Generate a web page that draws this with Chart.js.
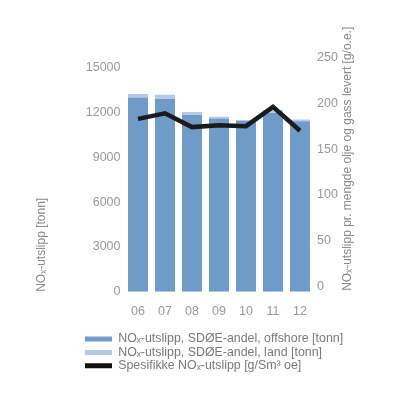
<!DOCTYPE html>
<html>
<head>
<meta charset="utf-8">
<script src="https://cdn.jsdelivr.net/npm/chart.js@4/dist/chart.umd.min.js"></script>
<style>
  html, body { margin: 0; padding: 0; background: #fff; }
  #wrap { width: 400px; height: 400px; position: relative; }
</style>
</head>
<body>
<div id="wrap"><canvas id="c" width="400" height="400"></canvas></div>
<script>
const categories = ['06', '07', '08', '09', '10', '11', '12'];
const offshore = [13020, 12930, 11850, 11620, 11450, 11980, 11430];
const land = [230, 270, 200, 110, 70, 200, 120];
const specific = [183, 189, 174, 176, 175, 196, 170];
const leftTicks = [0, 3000, 6000, 9000, 12000, 15000];
const rightTicks = [0, 50, 100, 150, 200, 250];

const labelOffshore = 'NOₓ-utslipp, SDØE-andel, offshore [tonn]';
const labelLand = 'NOₓ-utslipp, SDØE-andel, land [tonn]';
const labelSpecific = 'Spesifikke NOₓ-utslipp [g/Sm³ oe]';
const leftTitle = 'NOₓ-utslipp [tonn]';
const rightTitle = 'NOₓ-utslipp pr. mengde olje og gass levert [g/o.e.]';

const FONT = 'Liberation Sans';

const axisTitles = {
  id: 'axisTitles',
  afterDraw(chart) {
    const ctx = chart.ctx;
    const area = chart.chartArea;
    ctx.save();
    ctx.fillStyle = '#8a8a8a';
    ctx.font = '12px "' + FONT + '"';
    ctx.textAlign = 'left';
    ctx.textBaseline = 'middle';
    ctx.save();
    ctx.translate(42, area.bottom);
    ctx.rotate(-Math.PI / 2);
    ctx.fillText(leftTitle, 0, 0);
    ctx.restore();
    ctx.save();
    ctx.translate(347.5, area.bottom - 1);
    ctx.rotate(-Math.PI / 2);
    ctx.fillText(rightTitle, 0, 0);
    ctx.restore();
    ctx.restore();
  }
};

const plainTick = v => String(v);

new Chart(document.getElementById('c'), {
  data: {
    labels: categories,
    datasets: [
      {
        type: 'bar', label: labelOffshore, data: offshore,
        backgroundColor: '#6f9bc8', borderWidth: 0, yAxisID: 'y', order: 2,
        categoryPercentage: 1, barPercentage: 0.74
      },
      {
        type: 'bar', label: labelLand, data: land,
        backgroundColor: '#b5cae4', borderWidth: 0, yAxisID: 'y', order: 2,
        categoryPercentage: 1, barPercentage: 0.74
      },
      {
        type: 'line', label: labelSpecific, data: specific,
        borderColor: '#1b1b1b', backgroundColor: '#111111', borderWidth: 4.5,
        pointRadius: 0, tension: 0, borderJoinStyle: 'miter', fill: false,
        yAxisID: 'y1', order: 0
      }
    ]
  },
  options: {
    responsive: false,
    animation: false,
    devicePixelRatio: 1,
    layout: { padding: { left: 84, right: 0, top: 68, bottom: 18 } },
    plugins: {
      tooltip: { enabled: false },
      legend: {
        position: 'bottom',
        align: 'start',
        labels: {
          boxWidth: 27, boxHeight: 5, padding: 1,
          color: '#7a7a7a',
          font: { family: FONT, size: 12.4 },
          sort: (a, b) => a.datasetIndex - b.datasetIndex,
          generateLabels(chart) {
            const items = Chart.defaults.plugins.legend.labels.generateLabels(chart);
            items.forEach(it => { it.lineWidth = 0; it.strokeStyle = 'rgba(0,0,0,0)'; });
            return items;
          }
        }
      }
    },
    scales: {
      x: {
        stacked: true,
        grid: { display: false, drawTicks: false },
        border: { display: false },
        ticks: { color: '#9a9a9a', font: { family: FONT, size: 12.5 }, padding: 12 },
        afterFit(s) { s.height = 40; }
      },
      y: {
        stacked: true,
        position: 'left',
        min: 0, max: 15000,
        grid: { display: false, drawTicks: false },
        border: { display: false },
        ticks: { color: '#9a9a9a', font: { family: FONT, size: 12.5 }, padding: 4, autoSkip: false, callback: plainTick },
        afterBuildTicks(s) { s.ticks = leftTicks.map(v => ({ value: v })); },
        afterFit(s) { s.width = 40.5; }
      },
      y1: {
        position: 'right',
        min: -5.4, max: 238.4,
        grid: { display: false, drawTicks: false },
        border: { display: false },
        ticks: { color: '#9a9a9a', font: { family: FONT, size: 12.5 }, padding: 3.5, autoSkip: false, callback: plainTick },
        afterBuildTicks(s) { s.ticks = rightTicks.map(v => ({ value: v })); },
        afterFit(s) { s.width = 86.5; }
      }
    }
  },
  plugins: [axisTitles]
});
</script>
</body>
</html>
